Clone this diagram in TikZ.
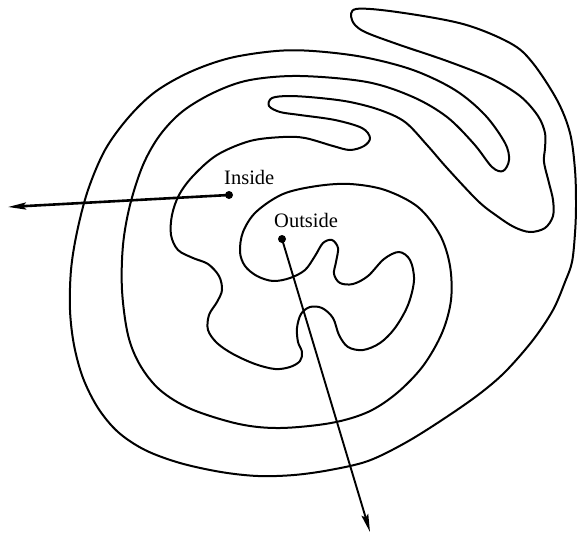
\documentclass[tikz,border=0pt]{standalone}
\usepackage{fontspec}
\setmainfont{Liberation Serif}
\usetikzlibrary{arrows.meta}
\tikzset{
  curve/.style={line width=2pt, line join=round},
  dot/.style={circle, fill=black, inner sep=0pt, minimum size=8pt},
  ray/.style={-{Stealth[length=18pt,width=7pt,inset=3pt]}},
  lbl/.style={font=\fontsize{20.5}{24}\selectfont, inner sep=0pt}
}
\begin{document}
\begin{tikzpicture}[x=1pt,y=-1pt]
\useasboundingbox (0,0) rectangle (577,535);
\draw[curve] plot[smooth cycle, tension=0.55] coordinates {
(356,9) (397,12) (463,24) (510,43) (532,62) (557,100) (570,133) (575,170) (576,205)
(575,233) (572,262) (565,282) (553,310) (533,340) (505,372) (478,395) (442,420) (405,443)
(368,461) (330,470) (294,475) (258,476) (221,472) (180,463) (145,450) (118,432)
(98,408) (83,378) (74,345) (70,310) (71,270) (77,232) (88,190) (105,150) (128,118)
(155,92) (190,72) (230,58) (276,51) (313,51) (363,57) (413,70) (455,90) (485,115)
(505,143) (509,160) (503,171) (492,167) (474,144) (447,117) (413,97) (367,82)
(300,76) (250,80) (215,92) (183,111) (160,135) (143,165) (130,205) (123,245)
(122,290) (128,335) (140,365) (160,390) (191,409) (239,424) (280,428) (331,423)
(368,412) (397,393) (423,366) (442,333) (451,300) (450,266) (440,235) (418,207)
(385,190) (350,184) (317,186) (283,194) (256,212) (243,232) (240,252) (245,266)
(257,276) (273,281) (290,278) (305,270) (315,256) (323,243) (332,240) (338,248)
(336,262) (334,274) (340,283) (353,284) (368,276) (384,259) (399,252) (410,260)
(414,280) (408,305) (395,328) (380,343) (363,350) (348,347) (339,335) (333,318)
(322,308) (310,307) (301,314) (297,328) (298,342) (302,352) (300,361) (290,367)
(275,369) (255,364) (233,354) (217,343) (208,330) (209,315) (217,302) (222,290)
(219,276) (208,264) (193,258) (178,250) (171,235) (172,215) (179,195) (193,176)
(217,155) (250,141) (283,137) (305,138) (333,146) (350,150) (364,146) (370,138)
(362,128) (335,120) (300,115) (280,112) (269,106) (272,98) (290,96) (320,98)
(350,102) (380,110) (405,122) (427,145) (447,168) (478,201) (497,216) (514,227)
(530,232) (545,228) (553,216) (553,200) (549,183) (544,162) (545,148) (545,133)
(538,116) (520,96) (490,78) (447,61) (397,44) (363,31) (352,20)
};
\node[dot] (in) at (229,195) {};
\node[dot] (out) at (282,239) {};
\coordinate (inend) at (8,207);
\coordinate (outend) at (370,532);
\draw[ray, line width=2.6pt] (in.center) -- (inend);
\draw[ray, line width=1.9pt] (out.center) -- (outend);
\node[lbl, anchor=base west] (inlbl) at (224,184) {Inside};
\node[lbl, anchor=base west] (outlbl) at (274,227) {Outside};
\end{tikzpicture}
\end{document}
